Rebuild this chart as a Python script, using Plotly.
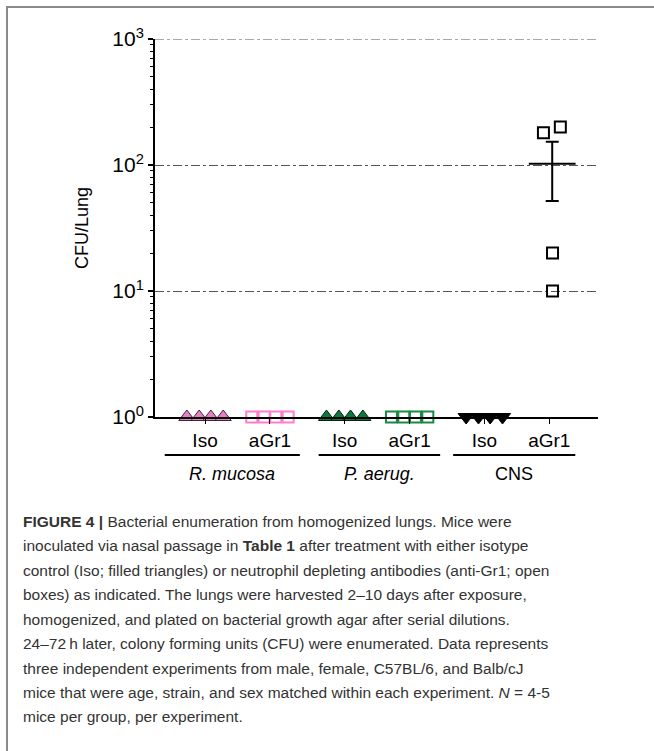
import numpy as np
import plotly.graph_objects as go

# ---------------- data ----------------
groups = ["R. mucosa", "P. aerug.", "CNS"]
group_italic = [True, True, False]
treatments = ["Iso", "aGr1"]

# CFU/Lung per mouse (1 = 10^0, at detection floor)
rmucosa_iso = [1, 1, 1, 1]
rmucosa_agr1 = [1, 1, 1, 1]
paerug_iso = [1, 1, 1, 1]
paerug_agr1 = [1, 1, 1, 1]
cns_iso = [1, 1, 1, 1]
cns_agr1 = [180, 200, 20, 10]

series_values = [rmucosa_iso, rmucosa_agr1, paerug_iso, paerug_agr1, cns_iso, cns_agr1]

# horizontal scatter offsets of the dots within a column
floor_jitter = [-0.28, -0.09, 0.09, 0.28]
cns_agr1_jitter = [-0.09, 0.17, 0.05, 0.05]
series_jitter = [floor_jitter] * 5 + [cns_agr1_jitter]

y_tick_vals = [1, 10, 100, 1000]
y_tick_text = ["10<sup>0</sup>", "10<sup>1</sup>", "10<sup>2</sup>", "10<sup>3</sup>"]

caption_lines = [
    "<b>FIGURE 4 |</b> Bacterial enumeration from homogenized lungs. Mice were",
    "inoculated via nasal passage in <b>Table 1</b> after treatment with either isotype",
    "control (Iso; filled triangles) or neutrophil depleting antibodies (anti-Gr1; open",
    "boxes) as indicated. The lungs were harvested 2\u201310 days after exposure,",
    "homogenized, and plated on bacterial growth agar after serial dilutions.",
    "24\u201372\u2009h later, colony forming units (CFU) were enumerated. Data represents",
    "three independent experiments from male, female, C57BL/6, and Balb/cJ",
    "mice that were age, strain, and sex matched within each experiment. <i>N</i> = 4-5",
    "mice per group, per experiment.",
]

# ---------------- styles ----------------
styles = [
    dict(symbol="triangle-up", color="#e67fc8", line=dict(color="#3a2a35", width=1), size=14),
    dict(symbol="square-open", color="#ff7fcf", line=dict(color="#ff7fcf", width=2), size=11),
    dict(symbol="triangle-up", color="#0c7a3c", line=dict(color="#0a1f12", width=1), size=14),
    dict(symbol="square-open", color="#1a8a44", line=dict(color="#1a8a44", width=2), size=11),
    dict(symbol="triangle-down", color="#000000", line=dict(color="#000000", width=1), size=14),
    dict(symbol="square-open", color="#000000", line=dict(color="#000000", width=2), size=11),
]
# underline extent of each group, relative to the group's first column
underline_extents = [(-0.62, 1.46), (-0.40, 1.47), (-0.48, 1.40)]

W, H = 654, 751
L, R, T, B = 155, 598, 39, 417   # plot area in pixels


def px_x(px):
    return (px - L) / (R - L)


def px_y(py):
    return (B - py) / (B - T)


group_gap = 0.15
positions = []
for g in range(len(groups)):
    for j in range(len(treatments)):
        positions.append(g * (len(treatments) + group_gap) + j)

fig = go.Figure()

# mean +/- SEM for columns with spread
for pos, vals, jit in zip(positions, series_values, series_jitter):
    v = np.array(vals, dtype=float)
    sem = v.std(ddof=1) / np.sqrt(len(v))
    if sem <= 0:
        continue
    m = v.mean()
    c = pos + float(np.mean(jit))
    fig.add_trace(go.Scatter(
        x=[c - 0.36, c + 0.36], y=[m, m], mode="lines",
        line=dict(color="black", width=2), hoverinfo="skip", showlegend=False,
        cliponaxis=False))
    fig.add_trace(go.Scatter(
        x=[c], y=[m], mode="markers", marker=dict(size=1, color="rgba(0,0,0,0)"),
        error_y=dict(type="data", array=[sem], visible=True, thickness=2, width=6.5,
                     color="black"),
        hoverinfo="skip", showlegend=False, cliponaxis=False))

# individual points
for pos, vals, jit, st in zip(positions, series_values, series_jitter, styles):
    fig.add_trace(go.Scatter(
        x=[pos + d for d in jit], y=vals, mode="markers",
        marker=dict(symbol=st["symbol"], color=st["color"], size=st["size"], line=st["line"]),
        showlegend=False, cliponaxis=False))

shapes = []
annotations = []

# top gridline at 10^3 (plotly hides grid lines on the range edge)
shapes.append(dict(type="line", xref="paper", yref="y", x0=0, x1=1, y0=1000, y1=1000,
                   line=dict(color="#555555", width=1, dash="dashdot")))

# group underlines and labels
line_y = 455
for g, name in enumerate(groups):
    start = positions[g * len(treatments)]
    x0, x1 = start + underline_extents[g][0], start + underline_extents[g][1]
    shapes.append(dict(type="line", xref="x", yref="paper", x0=x0, x1=x1,
                       y0=px_y(line_y), y1=px_y(line_y),
                       line=dict(color="black", width=2)))
    text = f"<i>{name}</i>" if group_italic[g] else name
    annotations.append(dict(xref="x", yref="paper", x=(x0 + x1) / 2, y=px_y(474),
                            text=text, showarrow=False, xanchor="center", yanchor="middle",
                            font=dict(family="Liberation Sans, Arial", size=18, color="black")))

# y-axis title
annotations.append(dict(xref="paper", yref="paper", x=px_x(82), y=px_y(228),
                        text="CFU/Lung", textangle=-90, showarrow=False,
                        xanchor="center", yanchor="middle",
                        font=dict(family="Liberation Sans, Arial", size=18, color="black")))

# caption
for i, ln in enumerate(caption_lines):
    annotations.append(dict(xref="paper", yref="paper", x=px_x(21), y=px_y(521 + 24.5 * i),
                            text=ln, showarrow=False, xanchor="left", yanchor="middle",
                            align="left",
                            font=dict(family="Liberation Sans, Arial", size=15.5, color="#333333")))

# figure frame (left and top border)
shapes.append(dict(type="line", xref="paper", yref="paper",
                   x0=px_x(7), x1=px_x(7), y0=px_y(6), y1=px_y(751),
                   line=dict(color="#8a8a8a", width=2)))
shapes.append(dict(type="line", xref="paper", yref="paper",
                   x0=px_x(6), x1=px_x(654), y0=px_y(7), y1=px_y(7),
                   line=dict(color="#8a8a8a", width=2)))

minor_vals = [k * 10 ** d for d in range(3) for k in range(2, 10)]

fig.update_layout(
    width=W, height=H,
    margin=dict(l=L, r=W - R, t=T, b=H - B, pad=0),
    paper_bgcolor="white", plot_bgcolor="white",
    showlegend=False,
    shapes=shapes, annotations=annotations,
    font=dict(family="Liberation Sans, Arial", color="black"),
    xaxis=dict(
        range=[-0.77, 6.05], tickvals=positions, ticktext=treatments * len(groups),
        showline=True, linecolor="black", linewidth=2, ticks="outside", ticklen=5,
        tickwidth=1, tickcolor="black", showgrid=False, zeroline=False,
        tickfont=dict(size=19, color="black"), fixedrange=True,
    ),
    yaxis=dict(
        type="log", range=[0, 3], tickvals=y_tick_vals, ticktext=y_tick_text,
        showline=True, linecolor="black", linewidth=2, ticks="outside", ticklen=5,
        tickwidth=1.5, tickcolor="black",
        showgrid=True, gridcolor="#555555", gridwidth=1, griddash="dashdot",
        zeroline=False, tickfont=dict(size=21, color="black"),
        minor=dict(tickvals=minor_vals, ticks="outside", ticklen=3, tickwidth=1,
                   tickcolor="black", showgrid=False),
        fixedrange=True,
    ),
)

fig.write_html("out.html", config={"displayModeBar": False},
               post_script="document.body.style.margin='0px';")
